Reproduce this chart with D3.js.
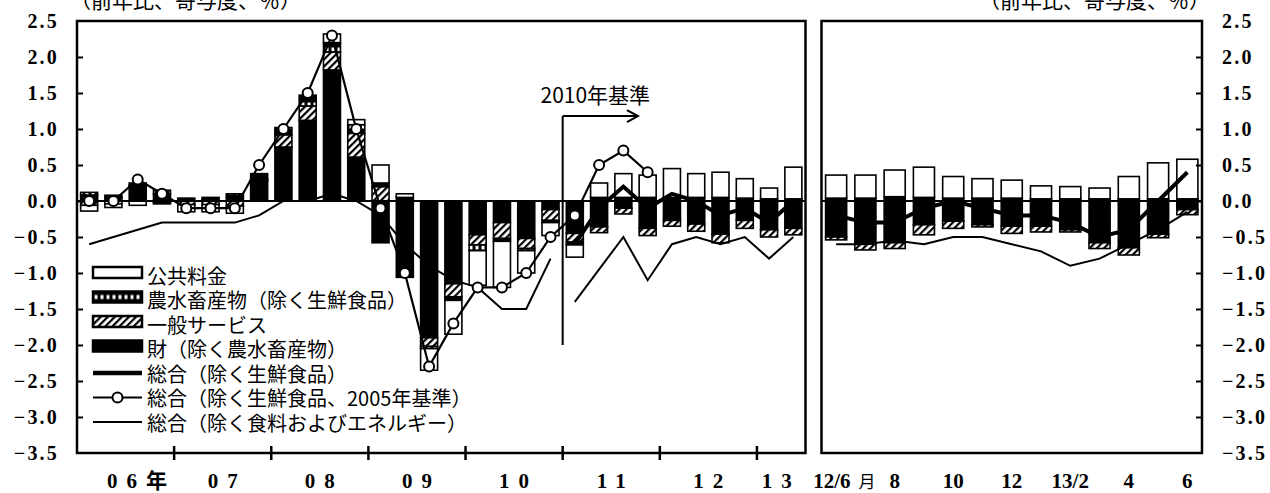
<!DOCTYPE html>
<html><head><meta charset="utf-8">
<script src="https://cdn.jsdelivr.net/npm/d3@7"></script>
<style>
body{margin:0;background:#fff;}
svg{display:block;}
.num{font-family:"Liberation Serif","DejaVu Serif",serif;font-weight:bold;fill:#000;}
.jp{font-family:"Noto Sans CJK JP",sans-serif;fill:#000;}
</style></head><body>
<svg id="chart" width="1270" height="493"></svg>
<script>
// ---------------- DATA ----------------
const quarters = ["06Q1","06Q2","06Q3","06Q4","07Q1","07Q2","07Q3","07Q4",
  "08Q1","08Q2","08Q3","08Q4","09Q1","09Q2","09Q3","09Q4",
  "10Q1","10Q2","10Q3","10Q4","11Q1","11Q2","11Q3","11Q4",
  "12Q1","12Q2","12Q3","12Q4","13Q1","13Q2"];
// 財（除く農水畜産物）
const qGoods    = [0.08,0.05,0.20,0.10,0.00,0.02,0.05,0.28, 0.75,1.12,1.82,0.61,-0.58,-1.06,-1.90,-1.15,
                   -0.47,-0.30,-0.52,-0.12,-0.45,-0.36,-0.10,-0.38, -0.27,-0.32,-0.46,-0.27,-0.40,-0.38];
// 一般サービス
const qServices = [-0.06,-0.04,0.02,-0.02,-0.05,-0.05,-0.07,0.02, 0.17,0.20,0.25,0.33,0.20,0.00,-0.12,-0.18,
                   -0.14,-0.22,-0.14,-0.15,-0.12,-0.08,-0.08,-0.10, -0.08,-0.10,-0.12,-0.11,-0.10,-0.09];
// 農水畜産物（除く生鮮食品）
const qAgri     = [0.04,0.03,0.03,0.05,0.04,0.03,0.05,0.08, 0.10,0.15,0.13,0.12,0.05,0.05,-0.03,-0.05,
                   -0.08,-0.04,-0.03,-0.03,-0.04,0.05,0.05,0.05, 0.05,0.05,0.05,0.04,0.03,0.03];
// 公共料金
const qPublic   = [-0.08,-0.05,-0.06,-0.02,-0.10,-0.10,-0.10,0.00, 0.00,0.00,0.12,0.07,0.25,0.05,-0.30,-0.47,
                   -0.48,-0.64,-0.31,-0.18,-0.17,0.20,0.33,0.31, 0.40,0.33,0.35,0.27,0.15,0.44];
// 総合（除く生鮮食品、2005年基準） 06Q1-11Q4
const qCore2005 = [0.0,0.0,0.3,0.1,-0.1,-0.1,-0.1,0.5, 1.0,1.5,2.3,1.0,-0.1,-1.0,-2.3,-1.7,
                   -1.2,-1.2,-1.0,-0.5,-0.2,0.5,0.7,0.4];
// 総合（除く生鮮食品） 2010年基準 11Q1-13Q2
const qCore2010 = [-0.6,-0.1,0.2,-0.1,0.1,0.0,-0.2,-0.1,-0.3,0.0];
// 総合（除く食料およびエネルギー） 2005年基準 06Q1-10Q4
const qCoreCore2005 = [-0.6,-0.5,-0.4,-0.3,-0.3,-0.3,-0.3,-0.2, 0.0,0.0,0.1,0.0,-0.2,-0.6,-0.9,-1.1,
                       -1.2,-1.5,-1.5,-0.8];
// 同 2010年基準 11Q1-13Q2
const qCoreCore2010 = [-1.4,-0.95,-0.5,-1.1,-0.6,-0.5,-0.6,-0.5,-0.8,-0.5];

const months = ["12/6","12/7","12/8","12/9","12/10","12/11","12/12","13/1","13/2","13/3","13/4","13/5","13/6"];
const mGoods    = [-0.50,-0.60,-0.58,-0.33,-0.28,-0.33,-0.35,-0.35,-0.40,-0.58,-0.65,-0.46,-0.12];
const mServices = [-0.04,-0.08,-0.08,-0.14,-0.10,-0.03,-0.10,-0.08,-0.03,-0.08,-0.10,-0.05,-0.07];
const mAgri     = [0.04,0.04,0.06,0.05,0.04,0.04,0.04,0.03,0.03,0.03,0.03,0.03,0.03];
const mPublic   = [0.32,0.32,0.37,0.42,0.30,0.27,0.25,0.18,0.17,0.15,0.31,0.50,0.55];
const mCore     = [-0.2,-0.3,-0.3,-0.1,0.0,-0.1,-0.2,-0.2,-0.3,-0.5,-0.4,0.0,0.4];
const mCoreCore = [-0.6,-0.6,-0.55,-0.6,-0.5,-0.5,-0.6,-0.7,-0.9,-0.8,-0.6,-0.4,-0.15];

const yTicks = [-3.5,-3.0,-2.5,-2.0,-1.5,-1.0,-0.5,0.0,0.5,1.0,1.5,2.0,2.5];
const yearLabels = ["06年","07","08","09","10","11","12","13"];
const monthLabels = ["12/6","","8","","10","","12","","13/2","","4","","6"];
const monthUnit = "月";
const unitLabel = "（前年比、寄与度、％）";
const baseLabel = "2010年基準";
const legendItems = ["公共料金","農水畜産物（除く生鮮食品）","一般サービス","財（除く農水畜産物）",
  "総合（除く生鮮食品）","総合（除く生鮮食品、2005年基準）","総合（除く食料およびエネルギー）"];
const baseChangeIndex = 20;   // quarter index where 2010 base begins
const arrowLevel = 1.18, arrowEndIndex = 23.1, baseLineBottom = -2.0;

// ---------------- LAYOUT ----------------
const svg = d3.select("#chart");
const L = {x0:77, x1:805.5}, R = {x0:821.5, x1:1202};
const plotTop = 21, plotBottom = 453;
const y = d3.scaleLinear().domain([-3.5,2.5]).range([plotBottom, plotTop]);
const xq = d3.scaleBand().domain(quarters).range([L.x0, L.x1]).paddingInner(0.3).paddingOuter(0.15);
const xqLin = d3.scaleLinear().domain([0, quarters.length]).range([L.x0, L.x1]);
const xm = d3.scaleBand().domain(months).range([R.x0, R.x1]).paddingInner(0.28).paddingOuter(0.14);
const xmLin = d3.scaleLinear().domain([0, months.length]).range([R.x0, R.x1]);

// patterns
const defs = svg.append("defs");
const hatch = defs.append("pattern").attr("id","hatch").attr("patternUnits","userSpaceOnUse")
  .attr("width",5).attr("height",5).attr("patternTransform","rotate(45)");
hatch.append("rect").attr("width",5).attr("height",5).attr("fill","#fff");
hatch.append("rect").attr("width",2.2).attr("height",5).attr("fill","#000");
const agri = defs.append("pattern").attr("id","agri").attr("patternUnits","userSpaceOnUse")
  .attr("width",6).attr("height",11);
agri.append("rect").attr("width",6).attr("height",11).attr("fill","#000");
agri.append("rect").attr("x",1.5).attr("y",3.5).attr("width",3).attr("height",4).attr("fill","#fff");

const keys = ["goods","services","agri","public"];
const fills = {goods:"#000", services:"url(#hatch)", agri:"url(#agri)", public:"#fff"};

function drawBars(cats, arrs, xs) {
  const rows = cats.map((c,i)=>({cat:c, goods:arrs[0][i], services:arrs[1][i], agri:arrs[2][i], public:arrs[3][i]}));
  const stack = d3.stack().keys(keys).offset(d3.stackOffsetDiverging)(rows);
  const g = svg.append("g");
  stack.forEach(layer=>{
    g.selectAll(null).data(layer.filter(d=>Math.abs(d[1]-d[0])>1e-9)).join("rect")
      .attr("x", d=>xs(d.data.cat))
      .attr("width", xs.bandwidth())
      .attr("y", d=>y(Math.max(d[0],d[1])))
      .attr("height", d=>Math.abs(y(d[0])-y(d[1])))
      .attr("fill", fills[layer.key])
      .attr("stroke","#000").attr("stroke-width",1.6);
  });
}

drawBars(quarters,[qGoods,qServices,qAgri,qPublic],xq);
drawBars(months,[mGoods,mServices,mAgri,mPublic],xm);

// zero lines
[[L.x0,L.x1],[R.x0,R.x1]].forEach(([a,b])=>{
  svg.append("line").attr("x1",a).attr("x2",b).attr("y1",y(0)).attr("y2",y(0))
    .attr("stroke","#000").attr("stroke-width",2);
});

// lines
function lineFor(xs, cats) {
  return d3.line().x((d,i)=>xs(cats[i])+xs.bandwidth()/2).y(d=>y(d));
}
const cats2005 = quarters.slice(0, qCore2005.length);
const cats2010 = quarters.slice(baseChangeIndex);
const catsCC2005 = quarters.slice(0, qCoreCore2005.length);

svg.append("path").datum(qCoreCore2005).attr("d", lineFor(xq,catsCC2005))
  .attr("fill","none").attr("stroke","#000").attr("stroke-width",2);
svg.append("path").datum(qCoreCore2010).attr("d", lineFor(xq,cats2010))
  .attr("fill","none").attr("stroke","#000").attr("stroke-width",2);
svg.append("path").datum(qCore2010).attr("d", lineFor(xq,cats2010))
  .attr("fill","none").attr("stroke","#000").attr("stroke-width",4);
svg.append("path").datum(qCore2005).attr("d", lineFor(xq,cats2005))
  .attr("fill","none").attr("stroke","#000").attr("stroke-width",2.2);
svg.append("g").selectAll("circle").data(qCore2005).join("circle")
  .attr("cx",(d,i)=>xq(cats2005[i])+xq.bandwidth()/2).attr("cy",d=>y(d)).attr("r",5)
  .attr("fill","#fff").attr("stroke","#000").attr("stroke-width",2);

svg.append("path").datum(mCoreCore).attr("d", lineFor(xm,months))
  .attr("fill","none").attr("stroke","#000").attr("stroke-width",2);
svg.append("path").datum(mCore).attr("d", lineFor(xm,months))
  .attr("fill","none").attr("stroke","#000").attr("stroke-width",4);

// frames
[[L.x0,L.x1],[R.x0,R.x1]].forEach(([a,b])=>{
  svg.append("rect").attr("x",a).attr("y",plotTop).attr("width",b-a).attr("height",plotBottom-plotTop)
    .attr("fill","none").attr("stroke","#000").attr("stroke-width",2.5);
});

// y axes
const fmt = d3.format(".1f");
const yl = svg.append("g").attr("transform",`translate(${L.x0},0)`)
  .call(d3.axisLeft(y).tickValues(yTicks).tickSize(-6).tickPadding(18).tickFormat(fmt));
const yr = svg.append("g").attr("transform",`translate(${R.x1},0)`)
  .call(d3.axisRight(y).tickValues(yTicks).tickSize(-6).tickPadding(20).tickFormat(fmt));
[yl,yr].forEach(g=>{
  g.select(".domain").remove();
  g.selectAll(".tick line").attr("stroke","#000").attr("stroke-width",2);
  g.selectAll(".tick text").attr("class","num").attr("font-size",20).attr("letter-spacing",2.2).attr("fill","#000");
});
yr.selectAll(".tick line").filter(d=>d===2.5||d===-3.5).remove();
yl.selectAll(".tick line").filter(d=>d===2.5||d===-3.5).remove();

// x axis (left panel): year boundary ticks
const boundaries = yearLabels.slice(1).map((_,i)=>(i+1)*4);
svg.append("g").selectAll("line").data(boundaries).join("line")
  .attr("x1",d=>xqLin(d)).attr("x2",d=>xqLin(d)).attr("y1",plotBottom-7).attr("y2",plotBottom+7)
  .attr("stroke","#000").attr("stroke-width",2.5);
svg.append("g").selectAll("text").data(yearLabels).join("text")
  .attr("class","num").attr("font-size",21).attr("letter-spacing",9)
  .attr("x",(d,i)=>{
     const s=i*4, e=Math.min(i*4+4, quarters.length);
     return xqLin((s+e)/2) + (i===0 ? 16 : (i===yearLabels.length-1 ? 0 : 4.5));
  })
  .attr("y",488).attr("text-anchor","middle")
  .style("font-family",'"Liberation Serif","Noto Sans CJK JP",serif')
  .text(d=>d);

// month labels
const ml = svg.append("g").selectAll("text").data(monthLabels.map((t,i)=>({t,i})).filter(d=>d.t)).join("text")
  .attr("class","num").attr("font-size",21)
  .style("font-family",'"Liberation Serif","Noto Sans CJK JP",serif')
  .attr("x",d=>xmLin(d.i+0.5) + (d.i===0 ? -23 : 0))
  .attr("text-anchor",d=>d.i===0?"start":"middle")
  .attr("y",488).text(d=>d.t);
ml.filter(d=>d.i===0).append("tspan").attr("dx",8).attr("font-size",17)
  .style("font-family",'"Noto Sans CJK JP",sans-serif').attr("font-weight","normal").text(monthUnit);

// unit labels
svg.append("text").attr("class","jp").attr("font-size",21).attr("x",70).attr("y",8).text(unitLabel);
svg.append("text").attr("class","jp").attr("font-size",21).attr("x",1210).attr("y",8)
  .attr("text-anchor","end").text(unitLabel);

// 2010 base annotation
const bx = xqLin(baseChangeIndex);
svg.append("line").attr("x1",bx).attr("x2",bx).attr("y1",y(arrowLevel)).attr("y2",y(baseLineBottom))
  .attr("stroke","#000").attr("stroke-width",2);
const ax = xqLin(arrowEndIndex);
svg.append("line").attr("x1",bx).attr("x2",ax).attr("y1",y(arrowLevel)).attr("y2",y(arrowLevel))
  .attr("stroke","#000").attr("stroke-width",2);
svg.append("path").attr("d",`M${ax-11},${y(arrowLevel)-6} L${ax},${y(arrowLevel)} L${ax-11},${y(arrowLevel)+6}`)
  .attr("fill","none").attr("stroke","#000").attr("stroke-width",2);
svg.append("text").attr("class","jp").attr("font-size",21)
  .attr("x",(bx+ax)/2-5).attr("y",y(arrowLevel)-13).attr("text-anchor","middle").text(baseLabel);

// legend
const lg = svg.append("g");
const rowY = i=>275 + i*24.5;
const sw = {x:93, w:49};
legendItems.forEach((t,i)=>{
  const cy = rowY(i);
  if (i<4) {
    const key = ["public","agri","services","goods"][i];
    const g = lg.append("g").attr("transform",`translate(${sw.x},${cy-8})`);
    g.append("rect").attr("width",sw.w).attr("height",11).attr("fill",fills[key])
      .attr("stroke","#000").attr("stroke-width",2.5);
  } else {
    lg.append("line").attr("x1",sw.x).attr("x2",sw.x+sw.w).attr("y1",cy).attr("y2",cy)
      .attr("stroke","#000").attr("stroke-width", i===4?4.5:2);
    if (i===5) lg.append("circle").attr("cx",sw.x+sw.w/2).attr("cy",cy).attr("r",5)
      .attr("fill","#fff").attr("stroke","#000").attr("stroke-width",2);
  }
  lg.append("text").attr("class","jp").attr("font-size",20).attr("x",147).attr("y",cy)
    .attr("dominant-baseline","central").text(t);
});
</script>
</body></html>
